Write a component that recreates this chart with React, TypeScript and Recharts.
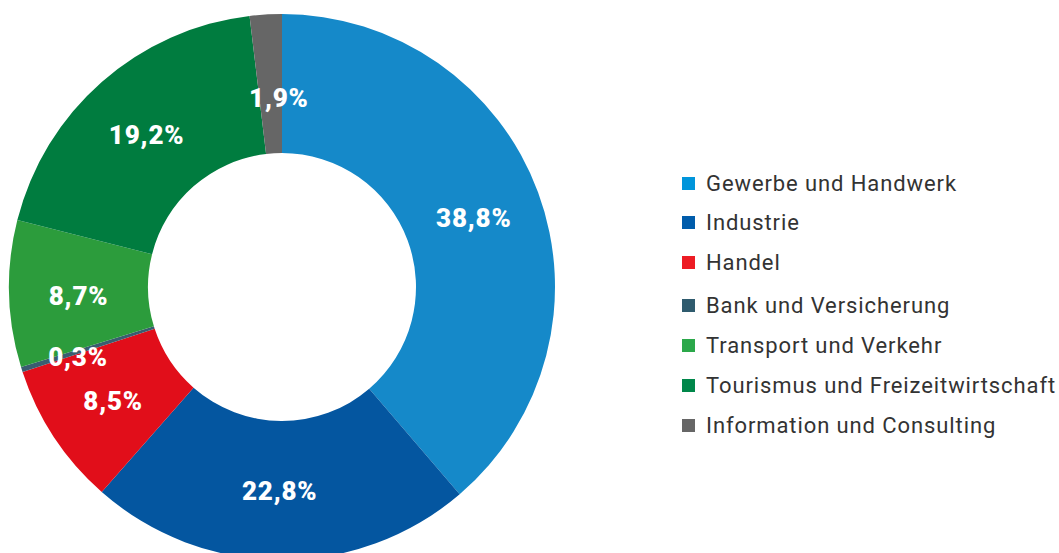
import { PieChart, Pie, Cell, Legend } from "recharts";

const categories = [
  "Gewerbe und Handwerk",
  "Industrie",
  "Handel",
  "Bank und Versicherung",
  "Transport und Verkehr",
  "Tourismus und Freizeitwirtschaft",
  "Information und Consulting",
];
const shares = [38.8, 22.8, 8.5, 0.3, 8.7, 19.2, 1.9];
const sliceColors = ["#1589C9", "#0456A0", "#E10E1A", "#3A5D70", "#2C9C3C", "#007C3F", "#666666"];
const legendColors = ["#0095DB", "#005CAB", "#ED1C24", "#2F5B6E", "#2BA84A", "#00874A", "#666666"];
// small label nudges (dx, dy) so the percentages sit where the original puts them
const labelNudge = [
  [1, 2],
  [-1, 1],
  [1, 2],
  [-10, 8],
  [0, 4],
  [-1, 1],
  [9, 14],
];

const data = categories.map((name, i) => ({ name, value: shares[i] }));

const RAD = Math.PI / 180;

function renderLabel(props: any) {
  const { cx, cy, midAngle, innerRadius, outerRadius, value, index } = props;
  const r = (innerRadius + outerRadius) / 2;
  const [dx, dy] = labelNudge[index] || [0, 0];
  const x = cx + r * Math.cos(-midAngle * RAD) + dx;
  const y = cy + r * Math.sin(-midAngle * RAD) + dy;
  return (
    <text
      x={x}
      y={y}
      fill="#fff"
      textAnchor="middle"
      dominantBaseline="central"
      style={{ fontFamily: "Roboto, sans-serif", fontWeight: 900, fontSize: 26, letterSpacing: 0.8 }}
    >
      {value.toFixed(1).replace(".", ",")}%
    </text>
  );
}

function LegendList() {
  const rowGap = [0, -1, 0, 3, 0, 0, 0];
  return (
    <div style={{ fontFamily: "Roboto, sans-serif", fontSize: 22, color: "#333", letterSpacing: 0.9 }}>
      {categories.map((c, i) => (
        <div key={c} style={{ display: "flex", alignItems: "center", height: 40, marginTop: rowGap[i] }}>
          <span
            style={{
              width: 13,
              height: 13,
              background: legendColors[i],
              display: "inline-block",
              marginRight: 11,
              flexShrink: 0,
            }}
          />
          <span style={{ whiteSpace: "nowrap" }}>{c}</span>
        </div>
      ))}
    </div>
  );
}

export default function App() {
  return (
    <div style={{ position: "absolute", left: 0, top: 0, width: 1059, height: 553, background: "#fff", overflow: "hidden" }}>
      <PieChart width={1059} height={553} margin={{ top: 0, right: 0, bottom: 0, left: 0 }}>
        <Pie
          data={data}
          dataKey="value"
          nameKey="name"
          cx={282}
          cy={287}
          innerRadius={134}
          outerRadius={273}
          startAngle={90}
          endAngle={-270}
          stroke="none"
          label={renderLabel}
          labelLine={false}
          isAnimationActive={false}
        >
          {data.map((d, i) => (
            <Cell key={d.name} fill={sliceColors[i]} />
          ))}
        </Pie>
        <Legend
          content={() => <LegendList />}
          wrapperStyle={{ left: 682, top: 163, width: 377 }}
        />
      </PieChart>
    </div>
  );
}
